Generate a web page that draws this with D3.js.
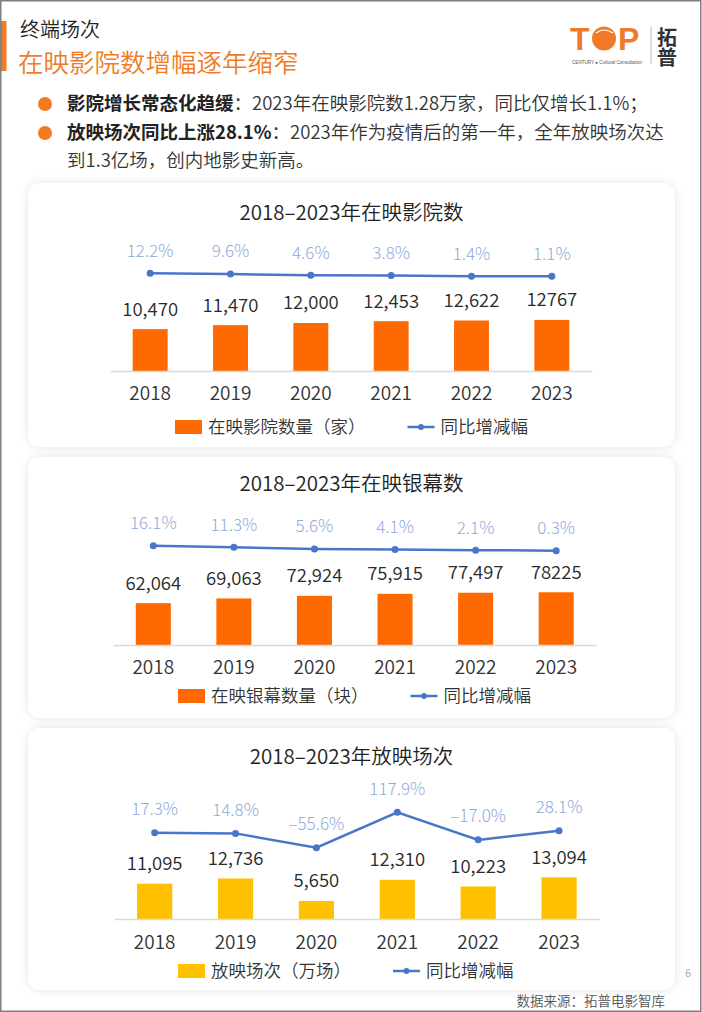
<!DOCTYPE html>
<html><head><meta charset="utf-8">
<script src="https://cdn.jsdelivr.net/npm/d3@7"></script>
<style>
html,body{margin:0;padding:0;background:#fff;}
svg{display:block;font-family:"Noto Sans CJK SC","Noto Sans",sans-serif;}
</style></head><body>
<svg id="c" width="702" height="1012"></svg>
<script>
// ---------- data ----------
const years = ["2018","2019","2020","2021","2022","2023"];
const cinemaCount = [10470,11470,12000,12453,12622,12767];
const cinemaLabels = ["10,470","11,470","12,000","12,453","12,622","12767"];
const cinemaYoY = [12.2,9.6,4.6,3.8,1.4,1.1];
const screenCount = [62064,69063,72924,75915,77497,78225];
const screenLabels = ["62,064","69,063","72,924","75,915","77,497","78225"];
const screenYoY = [16.1,11.3,5.6,4.1,2.1,0.3];
const showCount = [11095,12736,5650,12310,10223,13094];
const showLabels = ["11,095","12,736","5,650","12,310","10,223","13,094"];
const showYoY = [17.3,14.8,-55.6,117.9,-17.0,28.1];
const chartTitles = ["2018–2023年在映影院数","2018–2023年在映银幕数","2018–2023年放映场次"];
const barLegends = ["在映影院数量（家）","在映银幕数量（块）","放映场次（万场）"];
const lineLegend = "同比增减幅";

// ---------- layout ----------
const svg = d3.select("#c");
const defs = svg.append("defs");
const f = defs.append("filter").attr("id","sh").attr("x","-10%").attr("y","-10%").attr("width","120%").attr("height","120%");
f.append("feDropShadow").attr("dx",0).attr("dy",0).attr("stdDeviation",5).attr("flood-color","#000").attr("flood-opacity",0.11);

svg.append("rect").attr("width",702).attr("height",1012).attr("fill","#fff");

// header
const ORANGE = "#ef7b26";
svg.append("rect").attr("x",0).attr("y",21).attr("width",6.5).attr("height",50).attr("fill",ORANGE);
svg.append("text").attr("x",20).attr("y",36.5).attr("font-size",20).attr("font-weight",350).attr("fill","#222").text("终端场次");
svg.append("text").attr("x",18).attr("y",72).attr("font-size",25.5).attr("font-weight",350).attr("fill",ORANGE).text("在映影院数增幅逐年缩窄");

// logo
const logo = svg.append("g");
logo.append("text").attr("x",570).attr("y",50).attr("font-family","Liberation Sans, Arial").attr("font-weight",900).attr("font-size",32).attr("fill","#f07a2a").text("T");
logo.append("circle").attr("cx",604).attr("cy",38.5).attr("r",12).attr("fill","#f07a2a");
logo.append("path").attr("d","M596,33 Q604,27 613,33").attr("stroke","#fff").attr("stroke-width",1.2).attr("fill","none");
logo.append("text").attr("x",618).attr("y",50).attr("font-family","Liberation Sans, Arial").attr("font-weight",900).attr("font-size",32).attr("fill","#f07a2a").text("P");
logo.append("text").attr("x",572).attr("y",64).attr("font-family","Liberation Sans, Arial").attr("font-size",4.6).attr("fill","#555").text("CENTURY ● Cultural Consultation");
logo.append("line").attr("x1",651).attr("x2",651).attr("y1",27).attr("y2",64).attr("stroke","#bbb").attr("stroke-width",1);
logo.append("text").attr("x",667).attr("y",27).attr("font-size",20).attr("font-weight",700).attr("fill","#333")
  .style("writing-mode","vertical-rl").text("拓普");

// bullets
const bullets = [
  {y:110, bold:"影院增长常态化趋缓", rest:"：2023年在映影院数1.28万家，同比仅增长1.1%；", dot:true},
  {y:139, bold:"放映场次同比上涨28.1%", rest:"：2023年作为疫情后的第一年，全年放映场次达", dot:true},
  {y:167, bold:"", rest:"到1.3亿场，创内地影史新高。", dot:false}
];
bullets.forEach(b=>{
  if(b.dot) svg.append("circle").attr("cx",45).attr("cy",b.y-6).attr("r",7).attr("fill","#f47a20");
  const t = svg.append("text").attr("x",67).attr("y",b.y).attr("font-size",18.5).attr("fill","#333");
  if(b.bold) t.append("tspan").attr("font-weight",700).attr("fill","#222").text(b.bold);
  t.append("tspan").attr("font-weight",350).text(b.rest);
});

// charts
const pctFmt = v => (v<0?"–":"") + d3.format(".1f")(Math.abs(v)) + "%";
const charts = [
  {top:183,h:264,values:cinemaCount,labels:cinemaLabels,yoy:cinemaYoY,color:"#ff6a00",
   x0:110,x1:592,base:371,barMax:30000,pctY0:276.6,pctSlope:0.27,lblOff:22.5,titleY:220,yearY:393,legendY:427,legendX:175},
  {top:457,h:261,values:screenCount,labels:screenLabels,yoy:screenYoY,color:"#ff6a00",
   x0:113,x1:596.5,base:645,barMax:178000,pctY0:550.8,pctSlope:0.32,lblOff:22.5,titleY:491,yearY:667,legendY:696,legendX:178},
  {top:728,h:262,values:showCount,labels:showLabels,yoy:showYoY,color:"#ffc000",
   x0:114.2,x1:599.5,base:919,barMax:37700,pctY0:836.4,pctSlope:0.204,lblOff:23.5,titleY:764,yearY:942,legendY:971,legendX:178}
];
const LINE = "#4a76c9", PCT = "#8eaadb";

charts.forEach((c,ci)=>{
  const g = svg.append("g");
  g.append("rect").attr("x",28).attr("y",c.top).attr("width",647).attr("height",c.h).attr("rx",12)
    .attr("fill","#fff").attr("filter","url(#sh)");
  g.append("text").attr("x",351.5).attr("y",c.titleY).attr("text-anchor","middle")
    .attr("font-size",20.5).attr("font-weight",350).attr("fill","#222").text(chartTitles[ci]);

  const x = d3.scaleBand().domain(years).range([c.x0,c.x1]).paddingInner(0.565).paddingOuter(0.2825);
  const y = d3.scaleLinear().domain([0,c.barMax]).range([c.base,c.base-120]);
  const yp = d3.scaleLinear().domain([0,100]).range([c.pctY0,c.pctY0-100*c.pctSlope]);
  const cx = d => x(d)+x.bandwidth()/2;

  // bars
  g.selectAll(".bar").data(years).join("rect")
    .attr("x",d=>x(d)).attr("width",x.bandwidth())
    .attr("y",(d,i)=>y(c.values[i])).attr("height",(d,i)=>c.base-y(c.values[i]))
    .attr("fill",c.color);

  // axis
  const ax = g.append("g").attr("transform",`translate(0,${c.base})`)
    .call(d3.axisBottom(x).tickSize(0).tickPadding(0));
  ax.select(".domain").attr("stroke","#d9d9d9").attr("stroke-width",1.5);
  ax.selectAll("text").attr("font-size",19).attr("font-weight",350).attr("fill","#333")
    .attr("font-family","\"Noto Sans CJK SC\",sans-serif")
    .attr("y",c.yearY-c.base).attr("dy","0.35em");

  // value labels
  g.selectAll(".vl").data(years).join("text")
    .attr("x",d=>cx(d)).attr("y",(d,i)=>y(c.values[i])-20).attr("dy","0.35em")
    .attr("text-anchor","middle").attr("font-size",18.5).attr("font-weight",350).attr("fill","#2a2a2a")
    .text((d,i)=>c.labels[i]);

  // line
  const line = d3.line().x(d=>cx(d)).y((d,i)=>yp(c.yoy[i]));
  g.append("path").datum(years).attr("d",line).attr("fill","none").attr("stroke",LINE).attr("stroke-width",2.5);
  g.selectAll(".pt").data(years).join("circle").attr("cx",d=>cx(d)).attr("cy",(d,i)=>yp(c.yoy[i])).attr("r",3.5).attr("fill",LINE);
  g.selectAll(".pl").data(years).join("text")
    .attr("x",d=>cx(d)).attr("y",(d,i)=>yp(c.yoy[i])-c.lblOff).attr("dy","0.35em")
    .attr("text-anchor","middle").attr("font-size",17).attr("font-weight",300).attr("fill",PCT)
    .text((d,i)=>pctFmt(c.yoy[i]));

  // legend
  const lg = g.append("g").attr("transform",`translate(${c.legendX},${c.legendY})`);
  lg.append("rect").attr("x",0).attr("y",-7).attr("width",27).attr("height",14).attr("fill",c.color);
  const t1 = lg.append("text").attr("x",33).attr("y",0).attr("dy","0.35em").attr("font-size",17.5).attr("font-weight",350).attr("fill","#333").text(barLegends[ci]);
  const e1 = 33 + t1.node().getComputedTextLength();
  const lx = e1 + 42;
  lg.append("line").attr("x1",lx).attr("x2",lx+27).attr("y1",0).attr("y2",0).attr("stroke",LINE).attr("stroke-width",2.5);
  lg.append("circle").attr("cx",lx+13.5).attr("cy",0).attr("r",3).attr("fill",LINE);
  lg.append("text").attr("x",lx+33).attr("y",0).attr("dy","0.35em").attr("font-size",17.5).attr("font-weight",350).attr("fill","#333").text(lineLegend);
});

// footer
svg.append("text").attr("x",665).attr("y",1006).attr("text-anchor","end").attr("font-size",13.5).attr("font-weight",350).attr("fill","#555").text("数据来源：拓普电影智库");
svg.append("text").attr("x",688).attr("y",977).attr("text-anchor","middle").attr("font-size",11).attr("fill","#aaa").text("6");

// page border
svg.append("rect").attr("x",0.75).attr("y",0.75).attr("width",700).attr("height",1010.5)
  .attr("fill","none").attr("stroke","#7f7f7f").attr("stroke-width",1.5);
</script>
</body></html>
